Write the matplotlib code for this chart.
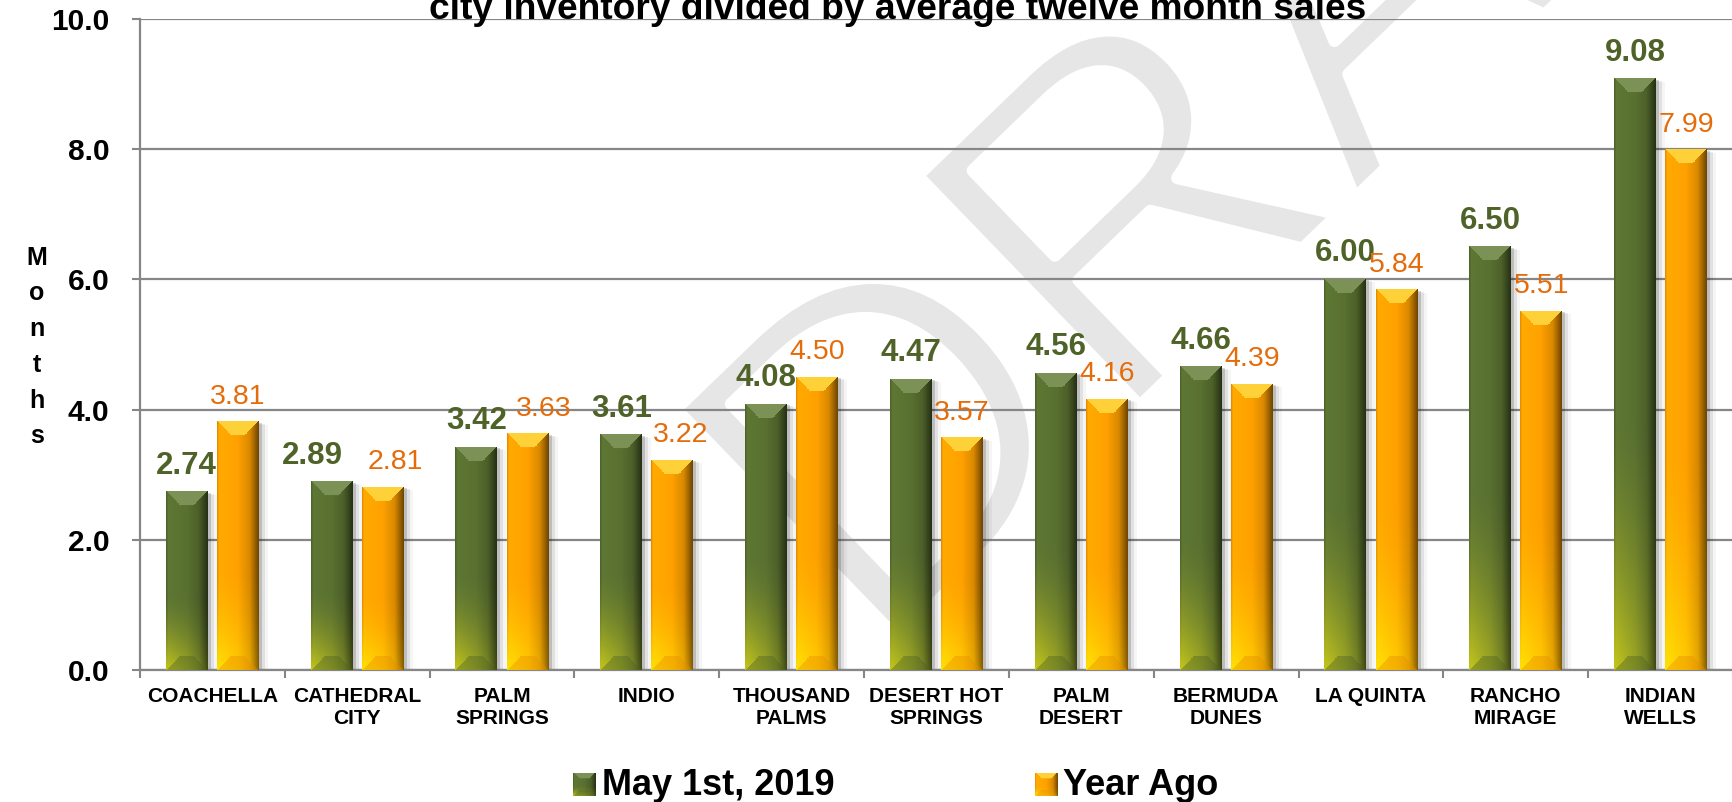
import numpy as np
import matplotlib
matplotlib.use('Agg')
import matplotlib.pyplot as plt
import matplotlib.patheffects as pe
from matplotlib.patches import Rectangle
from matplotlib.transforms import ScaledTranslation

# ---------------------------------------------------------------------------
# Datos
# ---------------------------------------------------------------------------
ciudades = ['COACHELLA', 'CATHEDRAL\nCITY', 'PALM\nSPRINGS', 'INDIO',
            'THOUSAND\nPALMS', 'DESERT HOT\nSPRINGS', 'PALM\nDESERT',
            'BERMUDA\nDUNES', 'LA QUINTA', 'RANCHO\nMIRAGE', 'INDIAN\nWELLS']
meses_actual = [2.74, 2.89, 3.42, 3.61, 4.08, 4.47, 4.56, 4.66, 6.00, 6.50, 9.08]
meses_anterior = [3.81, 2.81, 3.63, 3.22, 4.50, 3.57, 4.16, 4.39, 5.84, 5.51, 7.99]
serie_actual = 'May 1st, 2019'
serie_anterior = 'Year Ago'
titulo = 'city inventory divided by average twelve month sales'
ticks_y = [0, 2, 4, 6, 8, 10]

# ajustes manuales de etiquetas (px) para que no se pisen
nudge_actual = [0, -19, 0, 0, 0, 0, 0, 0, 0, 0, 0]
nudge_anterior = [0, 12, 16, 8, 0, 0, 0, 0, 0, 0, 0]

plt.rcParams['font.family'] = ['Liberation Sans', 'DejaVu Sans']

# paletas para el efecto biselado
paletas = {
    'verde': dict(body=np.array([0.35, 0.44, 0.19]),
                  glow=np.array([0.80, 0.80, 0.10]),
                  top=np.array([0.49, 0.57, 0.34]),
                  bottom=np.array([0.30, 0.38, 0.15])),
    'naranja': dict(body=np.array([1.00, 0.63, 0.00]),
                    glow=np.array([1.00, 0.90, 0.02]),
                    top=np.array([1.00, 0.82, 0.22]),
                    bottom=np.array([0.90, 0.55, 0.00])),
}
color_lbl_verde = '#4F6228'
color_lbl_naranja = '#E46C0A'


def imagen_bisel(tipo, nr, nc, b=14):
    pal = paletas[tipo]
    u = (np.arange(nc) + 0.5) / nc
    v = np.arange(nr) + 0.5
    U, V = np.meshgrid(u, v)
    Upx = U * nc
    vf = V / nr
    img = np.ones((nr, nc, 3)) * pal['body']
    shade = np.interp(U, [0, 0.06, 0.5, 0.78, 1.0], [0.85, 1.06, 1.0, 0.85, 0.42])
    img = img * shade[..., None]
    t = np.clip((vf - 0.58) / 0.42, 0, 1) ** 1.6 * np.interp(U, [0, 0.5, 1], [0.95, 0.6, 0.15])
    img = img * (1 - t[..., None]) + pal['glow'] * t[..., None]
    top = (V < b) & (Upx > V) & (Upx < nc - V)
    img[top] = pal['top']
    bot = (V > nr - b) & (Upx > nr - V) & (Upx < nc - (nr - V))
    img[bot] = img[bot] * 0.6 + pal['bottom'] * 0.4
    return np.clip(img, 0, 1)


W, H, DPI = 1733, 802, 100
fig = plt.figure(figsize=(W / DPI, H / DPI), dpi=DPI)
fig.patch.set_facecolor('white')

# marca de agua (trazo adelgazado con un borde blanco encima)
fig.text(1345 / W, 1 - 41 / H, 'DRAFT', fontsize=335, color='#e6e6e6', rotation=44,
         ha='center', va='center', rotation_mode='anchor', zorder=-1,
         path_effects=[pe.Normal(), pe.Stroke(linewidth=9, foreground='white')])

ax = fig.add_axes([140 / W, 1 - 670 / H, 1 - 140 / W, (670 - 19) / H])
ax.set_facecolor('none')

x = np.arange(len(ciudades))
ancho = 0.29
desp = 0.177
barras_a = ax.bar(x - desp, meses_actual, ancho, color='#566d2f', zorder=2)
barras_b = ax.bar(x + desp, meses_anterior, ancho, color='#ffa000', zorder=2)

ax.set_xlim(-0.5, len(ciudades) - 0.5)
ax.set_ylim(0, 10)

ppu_x = (W - 140) / len(ciudades)
ppu_y = (670 - 19) / 10.0

for barras, tipo in [(barras_a, 'verde'), (barras_b, 'naranja')]:
    for p in barras:
        x0, w, h = p.get_x(), p.get_width(), p.get_height()
        # sombra
        for dx, al in [(3, 0.16), (6, 0.08), (9, 0.04)]:
            sh = Rectangle((x0, 0), w, h, facecolor='black', alpha=al, lw=0, zorder=1.5,
                           transform=ax.transData + ScaledTranslation(dx / DPI, -dx / 3 / DPI, fig.dpi_scale_trans))
            ax.add_patch(sh)
        nr = max(int(round(h * ppu_y)), 4)
        nc = max(int(round(w * ppu_x)), 4)
        ax.imshow(imagen_bisel(tipo, nr, nc), extent=(x0, x0 + w, 0, h),
                  aspect='auto', zorder=3, interpolation='bilinear')

ax.set_xlim(-0.5, len(ciudades) - 0.5)
ax.set_ylim(0, 10)

# etiquetas de datos
pt = 72.0 / DPI
for p, val, nd in zip(barras_a, meses_actual, nudge_actual):
    ax.annotate(f'{val:.2f}', (p.get_x() + p.get_width() / 2, p.get_height()),
                xytext=(nd * pt, 13), textcoords='offset points', ha='center', va='baseline',
                fontsize=22.5, fontweight='bold', color=color_lbl_verde, zorder=5)
for p, val, nd in zip(barras_b, meses_anterior, nudge_anterior):
    ax.annotate(f'{val:.2f}', (p.get_x() + p.get_width() / 2, p.get_height()),
                xytext=(nd * pt, 13), textcoords='offset points', ha='center', va='baseline',
                fontsize=20.5, color=color_lbl_naranja, zorder=5)

# ejes
ax.set_yticks(ticks_y)
ax.set_yticklabels([f'{t:.1f}' for t in ticks_y], fontsize=21.5, fontweight='bold')
ax.tick_params(axis='y', length=6, color='#868686', width=1.5, pad=16)
ax.yaxis.grid(True, color='#868686', linewidth=1.6, zorder=0)
ax.set_axisbelow(True)

ax.set_xticks(x)
ax.set_xticklabels(ciudades, fontsize=15, fontweight='bold', linespacing=1.22)
ax.set_xticks(np.arange(-0.5, len(ciudades)), minor=True)
ax.tick_params(axis='x', which='major', length=0, pad=12)
ax.tick_params(axis='x', which='minor', length=6, color='#868686', width=1.5)

for s in ['top', 'right']:
    ax.spines[s].set_visible(False)
for s in ['left', 'bottom']:
    ax.spines[s].set_color('#868686')
    ax.spines[s].set_linewidth(1.6)

fig.text(37 / W, 1 - 347 / H, 'M\no\nn\nt\nh\ns', ha='center', va='center',
         fontsize=18, fontweight='bold', linespacing=1.62)

fig.text(898 / W, 1 - 19 / H, titulo, ha='center', va='baseline',
         fontsize=26.7, fontweight='bold')

# leyenda manual
for xm, xt, tipo, lbl in [(573, 602, 'verde', serie_actual), (1035, 1063, 'naranja', serie_anterior)]:
    lax = fig.add_axes([xm / W, 1 - 796 / H, 23 / W, 23 / H])
    lax.imshow(imagen_bisel(tipo, 23, 23, b=6), aspect='auto', interpolation='bilinear')
    lax.axis('off')
    fig.text(xt / W, 1 - 795 / H, lbl, ha='left', va='baseline', fontsize=26, fontweight='bold')

fig.savefig('out.png', dpi=DPI)
